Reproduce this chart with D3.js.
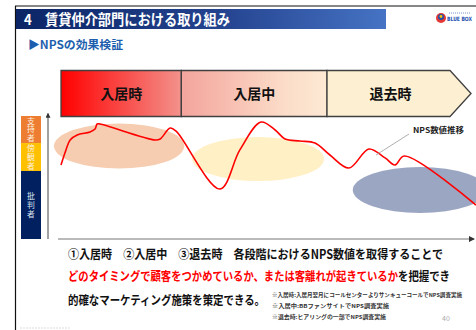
<!DOCTYPE html>
<html><head><meta charset="utf-8">
<script src="https://cdn.jsdelivr.net/npm/d3@7"></script>
<style>
html,body{margin:0;padding:0;background:#fff;}
svg{display:block;font-family:"Noto Sans CJK JP","Noto Sans",sans-serif;}
</style></head>
<body><svg id="c" width="476" height="330"></svg>
<script>
// ---- data ----
const title = "4\u3000賃貸仲介部門における取り組み";
const subtitle = "▶NPSの効果検証";
const phases = ["入居時", "入居中", "退去時"];
const phaseBounds = [0, 29, 64.1, 98.8]; // time domain (0-100) boundaries
const legendCats = ["支持者", "傍観者", "批判者"];
const legendBounds = [100, 78, 55.3, 0]; // NPS level domain
const legendColors = ["#ed7d31", "#ffc000", "#002060"];
// NPS transition line (time, level)
const lineT = [0, 1.2, 2.2, 3.9, 7.0, 8.2, 8.7, 9.4, 22.7, 23.9, 26.3, 27.8, 38.3, 43.1, 48.2, 51.6, 54.0, 57.6, 61.2, 64.8, 69.4, 74.2, 78.1, 80.5, 82.7, 100];
const lineV = [60.2, 72.4, 80.5, 84.6, 87.0, 89.4, 93.5, 93.5, 80.5, 81.3, 90.2, 87.5, 40.7, 72.4, 95.1, 88.6, 81.3, 79.7, 78.0, 68.3, 57.7, 73.2, 65.9, 60.2, 67.5, 27.6];
// zones (center time, center level, half-width time, half-height level)
const zoneT = [14, 47.5, 86.5];
const zoneV = [75.6, 65, 39.8];
const zoneW = [15.7, 15.9, 16.2];
const zoneH = [18.3, 17.9, 18.7];
const zoneColors = ["#f6cdb0", "#fff0c6", "#9ba6c2"];
const lineLabel = "NPS数値推移";
const bodyParts = [
  {t:"①入居時\u3000②入居中\u3000③退去時\u3000各段階におけるNPS数値を取得することで", c:"#111", line:0, w:375},
  {t:"どのタイミングで顧客をつかめているか、または客離れが起きているか", c:"#ff0000", line:1, w:330},
  {t:"を把握でき", c:"#111", line:1, w:52},
  {t:"的確なマーケティング施策を策定できる。", c:"#111", line:2, w:197}
];
const notes = ["※入居時:入居月翌月にコールセンターよりサンキューコールでNPS調査実施", "※入居中:BBファンサイトでNPS調査実施", "※退去時:ヒアリングの一部でNPS調査実施"];
const noteW = [190, 117, 114];
const pageNo = "40";

// ---- drawing ----
const svg = d3.select("#c");
const defs = svg.append("defs");
const x = d3.scaleLinear().domain([0, 100]).range([61, 476]);
const y = d3.scaleLinear().domain([0, 100]).range([239, 116]);
const fit = (sel, w) => sel.attr("textLength", w).attr("lengthAdjust", "spacingAndGlyphs");

// frame lines
svg.append("line").attr("x1",15).attr("x2",476).attr("y1",6).attr("y2",6).attr("stroke","#111").attr("stroke-width",1.2);
svg.append("line").attr("x1",15.5).attr("x2",15.5).attr("y1",6).attr("y2",330).attr("stroke","#111").attr("stroke-width",1.2);

// header bar
const hg = defs.append("linearGradient").attr("id","hg");
hg.append("stop").attr("offset","0%").attr("stop-color","#0b2566");
hg.append("stop").attr("offset","55%").attr("stop-color","#24438f");
hg.append("stop").attr("offset","100%").attr("stop-color","#4673c4");
svg.append("rect").attr("x",16).attr("y",9).attr("width",370).attr("height",20).attr("fill","url(#hg)");
fit(svg.append("text").attr("x",24).attr("y",24.5).attr("fill","#fff").attr("font-size",14.5).attr("font-weight","bold").text(title), 206);

// logo
const lg = svg.append("g");
lg.append("circle").attr("cx",441).attr("cy",18).attr("r",5).attr("fill","#e53935");
lg.append("circle").attr("cx",441).attr("cy",17).attr("r",3).attr("fill","#1e4fb0");
lg.append("circle").attr("cx",441).attr("cy",16.5).attr("r",1.4).attr("fill","#f5c400");
fit(lg.append("text").attr("x",447).attr("y",21).attr("font-size",5.8).attr("font-weight","bold").attr("fill","#1e4fb0").attr("font-family","DejaVu Sans").text("BLUE BOX"), 25);
lg.append("line").attr("x1",449).attr("x2",471).attr("y1",13).attr("y2",13).attr("stroke","#7a93c8").attr("stroke-width",1).attr("stroke-dasharray","1,1");

// subtitle
fit(svg.append("text").attr("x",28).attr("y",48.5).attr("fill","#1d5fae").attr("font-size",11.5).attr("font-weight","bold").text(subtitle), 95);

// phase arrow band
const g1 = defs.append("linearGradient").attr("id","p1");
g1.append("stop").attr("offset","0%").attr("stop-color","#ff0000");
g1.append("stop").attr("offset","100%").attr("stop-color","#f3928c");
const g2 = defs.append("linearGradient").attr("id","p2");
g2.append("stop").attr("offset","0%").attr("stop-color","#f4a49c");
g2.append("stop").attr("offset","70%").attr("stop-color","#fbdcc8");
g2.append("stop").attr("offset","100%").attr("stop-color","#fde9d4");
const fills = ["url(#p1)", "url(#p2)", "#fdefd2"];
const bandTop = 70.5, bandBot = 116.5, bandMid = (bandTop + bandBot) / 2;
phases.forEach((p, i) => {
  const x0 = x(phaseBounds[i]), x1 = x(phaseBounds[i + 1]);
  let d;
  if (i === phases.length - 1) {
    const xs = x1 - 21;
    d = `M${x0},${bandTop}L${xs},${bandTop}L${x1},${bandMid}L${xs},${bandBot}L${x0},${bandBot}Z`;
  } else {
    d = `M${x0},${bandTop}L${x1},${bandTop}L${x1},${bandBot}L${x0},${bandBot}Z`;
  }
  svg.append("path").attr("d", d).attr("fill", fills[i]).attr("stroke", "#404040").attr("stroke-width", 1.3);
  const cx = i === phases.length - 1 ? (x0 + x1 - 21) / 2 + 2 : (x0 + x1) / 2;
  svg.append("text").attr("x", cx).attr("y", bandMid + 5).attr("text-anchor", "middle")
    .attr("font-size", 14).attr("font-weight", "bold").attr("fill", "#111").text(p);
});

// legend bar
legendCats.forEach((c, i) => {
  const yt = y(legendBounds[i]), yb = y(legendBounds[i + 1]);
  svg.append("rect").attr("x", 21).attr("y", yt).attr("width", 20).attr("height", yb - yt).attr("fill", legendColors[i]);
  const chars = c.split("");
  const mid = (yt + yb) / 2, step = 8.8;
  chars.forEach((ch, k) => {
    svg.append("text").attr("x", 31).attr("y", mid + (k - (chars.length - 1) / 2) * step + 2.8)
      .attr("text-anchor", "middle").attr("font-size", 7.8).attr("fill", i === 2 ? "#dfe6f2" : "#fdf1e0").text(ch);
  });
});

// axes
defs.append("marker").attr("id","ar").attr("viewBox","0 0 6 6").attr("refX",5).attr("refY",3)
  .attr("markerWidth",5).attr("markerHeight",5).attr("orient","auto")
  .append("path").attr("d","M0,0L6,3L0,6Z").attr("fill","#333");
svg.append("line").attr("x1",48).attr("x2",48).attr("y1",239).attr("y2",y(102)).attr("stroke","#444").attr("stroke-width",1).attr("marker-end","url(#ar)");
svg.append("line").attr("x1",58).attr("x2",474).attr("y1",239).attr("y2",239).attr("stroke","#777").attr("stroke-width",1.2).attr("marker-end","url(#ar)");

// zones
zoneT.forEach((t, i) => {
  svg.append("ellipse").attr("cx", x(t)).attr("cy", y(zoneV[i]))
    .attr("rx", x(t + zoneW[i]) - x(t)).attr("ry", y(zoneV[i] - zoneH[i]) - y(zoneV[i]))
    .attr("fill", zoneColors[i]);
});

// line
const pts = lineT.map((t, i) => [t, lineV[i]]);
const lineGen = d3.line().x(d => x(d[0])).y(d => y(d[1])).curve(d3.curveCatmullRom.alpha(0.5));
svg.append("path").datum(pts).attr("d", lineGen).attr("fill","none").attr("stroke","#ff0000").attr("stroke-width",1.6);

// line label + leader
svg.append("line").attr("x1",409).attr("y1",134).attr("x2",376).attr("y2",155).attr("stroke","#999").attr("stroke-width",0.8);
fit(svg.append("text").attr("x",413).attr("y",133).attr("font-size",7.5).attr("font-weight","bold").attr("fill","#222").text(lineLabel), 51);

// body text
const bodyY = [259, 281, 305];
let cursor = [68, 68, 68];
bodyParts.forEach(p => {
  fit(svg.append("text").attr("x", cursor[p.line]).attr("y", bodyY[p.line]).attr("font-size", 12.5)
    .attr("font-weight", "bold").attr("fill", p.c).text(p.t), p.w);
  cursor[p.line] += p.w;
});
const noteY = [297, 308, 319];
notes.forEach((n, i) => {
  fit(svg.append("text").attr("x", 272).attr("y", noteY[i]).attr("font-size", 5.4).attr("font-weight","bold").attr("fill", "#333").text(n), noteW[i]);
});
svg.append("text").attr("x", 446).attr("y", 321).attr("font-size", 7).attr("text-anchor","middle").attr("fill", "#aaa").text(pageNo);
svg.append("line").attr("x1",20).attr("x2",70).attr("y1",328).attr("y2",328).attr("stroke","#ddd").attr("stroke-width",1).attr("stroke-dasharray","2,1");
</script></body></html>
